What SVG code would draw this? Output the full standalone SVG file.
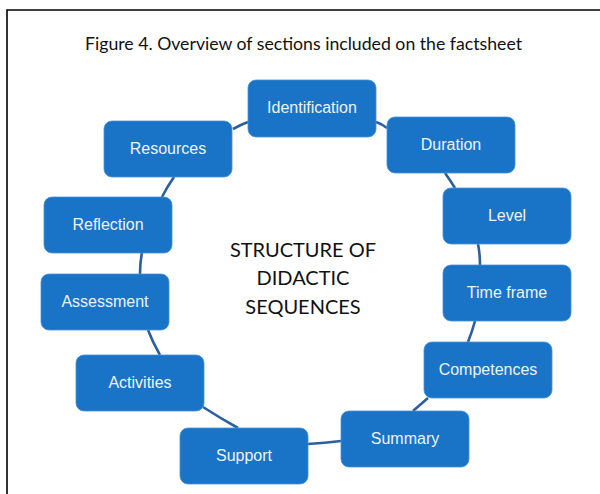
<svg xmlns="http://www.w3.org/2000/svg" width="600" height="494" viewBox="0 0 600 494">
<style>
.frame{stroke:#000;stroke-width:1.6;fill:none}
.title{font-family:Lato,"Open Sans","Liberation Sans",sans-serif;font-size:17px;fill:#111}
.center{font-family:Lato,"Open Sans","Liberation Sans",sans-serif;font-size:20px;fill:#111;text-anchor:middle}
.box{fill:#1974c8;stroke:#4a8fd4;stroke-width:0.8}
.lbl{font-family:"Liberation Sans",Arial,sans-serif;font-size:16px;fill:#eef3fb;text-anchor:middle}
.conn{fill:none;stroke:#2b5f9e;stroke-width:2.6;stroke-linecap:butt}
</style>
<rect width="600" height="494" fill="#fff"/>
<path class="frame" d="M7,494 V10 H600"/>
<text class="title" x="85" y="50" textLength="437" lengthAdjust="spacingAndGlyphs">Figure 4. Overview of sections included on the factsheet</text>
<g id="connectors">
<path class="conn" d="M233,129 Q240,125 248,122"/>
<path class="conn" d="M376,122 Q382,124 387,128"/>
<path class="conn" d="M445,173 Q450,180 455,188"/>
<path class="conn" d="M478,244 Q480,254 480,265"/>
<path class="conn" d="M475,321 Q472,332 468,342"/>
<path class="conn" d="M428,398 Q421,404 413,411"/>
<path class="conn" d="M341,441 Q325,443 308,444"/>
<path class="conn" d="M203,407 Q220,418 238,428"/>
<path class="conn" d="M148,330 Q153,343 160,355"/>
<path class="conn" d="M142,252 Q140,263 140,274"/>
<path class="conn" d="M162,197 Q167,187 174,177"/>
</g>
<g id="center-title">
<text class="center" x="303" y="257">STRUCTURE OF</text>
<text class="center" x="303" y="285">DIDACTIC</text>
<text class="center" x="303" y="314">SEQUENCES</text>
</g>
<g id="identification"><rect class="box" x="248" y="80" width="128" height="57" rx="8"/><text class="lbl" x="312" y="113">Identification</text></g>
<g id="duration"><rect class="box" x="387" y="117" width="128" height="56" rx="8"/><text class="lbl" x="451" y="150">Duration</text></g>
<g id="level"><rect class="box" x="443" y="188" width="128" height="56" rx="8"/><text class="lbl" x="507" y="221">Level</text></g>
<g id="time-frame"><rect class="box" x="443" y="265" width="128" height="56" rx="8"/><text class="lbl" x="507" y="298">Time frame</text></g>
<g id="competences"><rect class="box" x="424" y="342" width="128" height="56" rx="8"/><text class="lbl" x="488" y="375">Competences</text></g>
<g id="summary"><rect class="box" x="341" y="411" width="128" height="56" rx="8"/><text class="lbl" x="405" y="444">Summary</text></g>
<g id="support"><rect class="box" x="180" y="428" width="128" height="56" rx="8"/><text class="lbl" x="244" y="461">Support</text></g>
<g id="activities"><rect class="box" x="76" y="355" width="128" height="56" rx="8"/><text class="lbl" x="140" y="388">Activities</text></g>
<g id="assessment"><rect class="box" x="41" y="274" width="128" height="56" rx="8"/><text class="lbl" x="105" y="307">Assessment</text></g>
<g id="reflection"><rect class="box" x="44" y="197" width="128" height="56" rx="8"/><text class="lbl" x="108" y="230">Reflection</text></g>
<g id="resources"><rect class="box" x="104" y="121" width="128" height="56" rx="8"/><text class="lbl" x="168" y="154">Resources</text></g>
</svg>
